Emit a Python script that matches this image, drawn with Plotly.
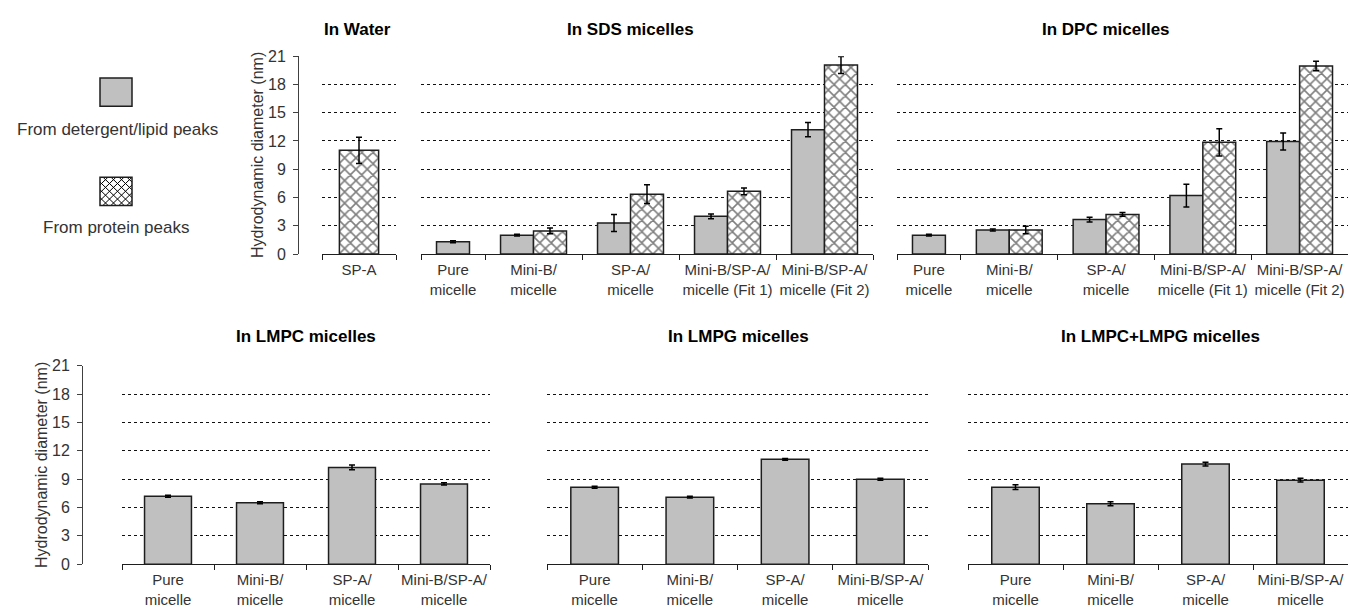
import numpy as np
import plotly.graph_objects as go

W, H = 1348, 616

# ---------------- data (hydrodynamic diameter, nm) ----------------
water_labels = ["SP-A"]
water_protein = [11.0]
water_protein_err = [1.4]

sds_labels = ["Pure<br>micelle", "Mini-B/<br>micelle", "SP-A/<br>micelle",
              "Mini-B/SP-A/<br>micelle (Fit 1)", "Mini-B/SP-A/<br>micelle (Fit 2)"]
sds_lipid = [1.3, 2.0, 3.3, 4.0, 13.2]
sds_lipid_err = [0.1, 0.1, 0.9, 0.25, 0.75]
sds_protein = [None, 2.45, 6.35, 6.65, 20.05]
sds_protein_err = [None, 0.3, 1.0, 0.35, 0.9]

dpc_labels = sds_labels
dpc_lipid = [2.0, 2.55, 3.65, 6.2, 11.95]
dpc_lipid_err = [0.1, 0.1, 0.25, 1.2, 0.9]
dpc_protein = [None, 2.55, 4.2, 11.85, 19.95]
dpc_protein_err = [None, 0.4, 0.2, 1.45, 0.5]

lyso_labels = ["Pure<br>micelle", "Mini-B/<br>micelle", "SP-A/<br>micelle", "Mini-B/SP-A/<br>micelle"]
lmpc_lipid = [7.2, 6.5, 10.25, 8.5]
lmpc_lipid_err = [0.1, 0.1, 0.25, 0.12]
lmpg_lipid = [8.15, 7.1, 11.1, 9.0]
lmpg_lipid_err = [0.1, 0.1, 0.1, 0.1]
mix_lipid = [8.15, 6.4, 10.6, 8.9]
mix_lipid_err = [0.25, 0.2, 0.2, 0.2]

y_ticks = [0, 3, 6, 9, 12, 15, 18, 21]
y_title = "Hydrodynamic diameter (nm)"
legend_lipid = "From detergent/lipid peaks"
legend_protein = "From protein peaks"

# ---------------- styling ----------------
FONT = "Liberation Sans, Arial, sans-serif"
GRAY = "#c0c0c0"
EDGE = "#1e1e1e"
TEXT = "#333333"


def fx(px):
    return px / W


def fy(py):
    return 1 - py / H


TOP = (253, 49.5)     # pixel rows of y=0 and y=21
BOTTOM = (572, 368)

panels = [
    dict(title="In Water", labels=water_labels, lipid=None, lipid_err=None,
         protein=water_protein, protein_err=water_protein_err,
         xpx=(322, 396), row=TOP, lo=-0.5, bw=0.53, yaxis_at=298, title_xy=(357, 22)),
    dict(title="In SDS micelles", labels=sds_labels, lipid=sds_lipid, lipid_err=sds_lipid_err,
         protein=sds_protein, protein_err=sds_protein_err,
         xpx=(421, 873), row=TOP, lo=-0.16, bw=0.34, yaxis_at=None, title_xy=(630, 22)),
    dict(title="In DPC micelles", labels=dpc_labels, lipid=dpc_lipid, lipid_err=dpc_lipid_err,
         protein=dpc_protein, protein_err=dpc_protein_err,
         xpx=(897, 1348), row=TOP, lo=-0.16, bw=0.34, yaxis_at=None, title_xy=(1106, 22)),
    dict(title="In LMPC micelles", labels=lyso_labels, lipid=lmpc_lipid, lipid_err=lmpc_lipid_err,
         protein=None, protein_err=None,
         xpx=(122, 490), row=BOTTOM, lo=-0.5, bw=0.51, yaxis_at=82, title_xy=(306, 338)),
    dict(title="In LMPG micelles", labels=lyso_labels, lipid=lmpg_lipid, lipid_err=lmpg_lipid_err,
         protein=None, protein_err=None,
         xpx=(547, 928), row=BOTTOM, lo=-0.5, bw=0.5, yaxis_at=None, title_xy=(738, 338)),
    dict(title="In LMPC+LMPG micelles", labels=lyso_labels, lipid=mix_lipid, lipid_err=mix_lipid_err,
         protein=None, protein_err=None,
         xpx=(968, 1348), row=BOTTOM, lo=-0.5, bw=0.5, yaxis_at=None, title_xy=(1160, 338)),
]

fig = go.Figure()
layout = dict(
    width=W, height=H, margin=dict(l=0, r=0, t=0, b=0),
    paper_bgcolor="white", plot_bgcolor="white",
    barmode="overlay", showlegend=False,
    font=dict(family=FONT, color=TEXT),
)
annotations = []
shapes = []

err_style = dict(type="data", visible=True, color="black", thickness=1.5, width=3)
hatch = dict(shape="x", size=8, solidity=0.36, fgcolor="black", bgcolor="white")

for k, p in enumerate(panels, start=1):
    xa, ya = f"x{k}", f"y{k}"
    n = len(p["labels"])
    lo, bw = p["lo"], p["bw"]
    centers = np.arange(n, dtype=float)
    if lo > -0.5:
        # first category is truncated on the left: centre it in the visible part
        centers[0] = (lo + 0.5) / 2
    boundaries = [lo] + [i + 0.5 for i in range(n)]

    has_lipid = [p["lipid"] is not None and p["lipid"][i] is not None for i in range(n)]
    has_prot = [p["protein"] is not None and p["protein"][i] is not None for i in range(n)]

    if p["lipid"] is not None:
        fig.add_trace(go.Bar(
            x=centers, y=p["lipid"], xaxis=xa, yaxis=ya,
            width=bw, offset=[-bw if has_prot[i] else -bw / 2 for i in range(n)],
            marker=dict(color=GRAY, line=dict(color=EDGE, width=1.5)),
            error_y=dict(array=p["lipid_err"], **err_style),
            name=legend_lipid, hoverinfo="y",
        ))
    if p["protein"] is not None:
        fig.add_trace(go.Bar(
            x=centers, y=p["protein"], xaxis=xa, yaxis=ya,
            width=bw, offset=[0 if has_lipid[i] else -bw / 2 for i in range(n)],
            marker=dict(color="white", line=dict(color=EDGE, width=1.5), pattern=hatch),
            error_y=dict(array=p["protein_err"], **err_style),
            name=legend_protein, hoverinfo="y",
        ))

    x0, x1 = p["xpx"]
    y0, y1 = p["row"]
    sfx = "" if k == 1 else str(k)
    layout["xaxis" + sfx] = dict(
        domain=[fx(x0), fx(x1)], range=[lo, n - 0.5], anchor=ya,
        showline=True, linecolor=EDGE, linewidth=1,
        tickmode="array", tickvals=centers, ticktext=p["labels"],
        ticks="", ticklabelstandoff=2,
        minor=dict(tickmode="array", tickvals=boundaries, ticks="outside",
                   ticklen=5, tickcolor=EDGE, tickwidth=1, showgrid=False),
        tickfont=dict(size=15, color=TEXT), showgrid=False, zeroline=False,
        fixedrange=True,
    )
    yax = dict(
        domain=[fy(y0), fy(y1)], range=[0, 21],
        tickmode="array", tickvals=y_ticks,
        showgrid=True, gridcolor="#111111", gridwidth=1, griddash="3px,3px",
        zeroline=False, fixedrange=True,
    )
    if p["yaxis_at"] is not None:
        yax.update(anchor="free", position=fx(p["yaxis_at"]), showline=True,
                   linecolor="#404040", linewidth=1, ticks="outside", ticklen=5,
                   tickcolor="#404040", ticklabelstandoff=4,
                   tickfont=dict(size=16, color=TEXT))
        annotations.append(dict(
            text=y_title, textangle=-90, xref="paper", yref="paper",
            x=fx(p["yaxis_at"] - 41), y=fy((y0 + y1) / 2),
            xanchor="center", yanchor="middle", showarrow=False,
            font=dict(size=16, color=TEXT, family=FONT)))
    else:
        yax.update(anchor=xa, showticklabels=False, showline=False, ticks="")
    layout["yaxis" + sfx] = yax

    tx, ty = p["title_xy"]
    annotations.append(dict(
        text=f"<b>{p['title']}</b>", xref="paper", yref="paper",
        x=fx(tx), y=fy(ty), xanchor="center", yanchor="middle", showarrow=False,
        font=dict(size=17, color="black", family=FONT)))

# ---------------- legend (left side) ----------------
sw_x0, sw_x1 = 100, 132
lip_y0, lip_y1 = 72, 101
pro_y0, pro_y1 = 174, 203

shapes.append(dict(type="rect", xref="paper", yref="paper",
                   x0=fx(sw_x0), x1=fx(sw_x1), y0=fy(lip_y1), y1=fy(lip_y0),
                   fillcolor=GRAY, line=dict(color=EDGE, width=1.5)))

# cross-hatch of the protein swatch
step = 8
segs = []
for c in np.arange(sw_x0 - pro_y1, sw_x1 - pro_y0 + step, step):
    a, b = max(sw_x0, pro_y0 + c), min(sw_x1, pro_y1 + c)
    if b > a:
        segs.append(((a, a - c), (b, b - c)))
for c in np.arange(sw_x0 + pro_y0, sw_x1 + pro_y1 + step, step):
    a, b = max(sw_x0, c - pro_y1), min(sw_x1, c - pro_y0)
    if b > a:
        segs.append(((a, c - a), (b, c - b)))
path = " ".join(f"M{fx(p0[0]):.5f},{fy(p0[1]):.5f} L{fx(p1[0]):.5f},{fy(p1[1]):.5f}"
                for p0, p1 in segs)
shapes.append(dict(type="rect", xref="paper", yref="paper",
                   x0=fx(sw_x0), x1=fx(sw_x1), y0=fy(pro_y1), y1=fy(pro_y0),
                   fillcolor="white", line=dict(width=0)))
shapes.append(dict(type="path", xref="paper", yref="paper", path=path,
                   line=dict(color="black", width=1)))
shapes.append(dict(type="rect", xref="paper", yref="paper",
                   x0=fx(sw_x0), x1=fx(sw_x1), y0=fy(pro_y1), y1=fy(pro_y0),
                   line=dict(color=EDGE, width=1.5)))

annotations.append(dict(text=legend_lipid, xref="paper", yref="paper",
                        x=fx(117), y=fy(125), xanchor="center", yanchor="middle",
                        showarrow=False, font=dict(size=17, color=TEXT, family=FONT)))
annotations.append(dict(text=legend_protein, xref="paper", yref="paper",
                        x=fx(116), y=fy(226), xanchor="center", yanchor="middle",
                        showarrow=False, font=dict(size=17, color=TEXT, family=FONT)))

layout["annotations"] = annotations
layout["shapes"] = shapes
fig.update_layout(**layout)

fig.write_html("out.html")
